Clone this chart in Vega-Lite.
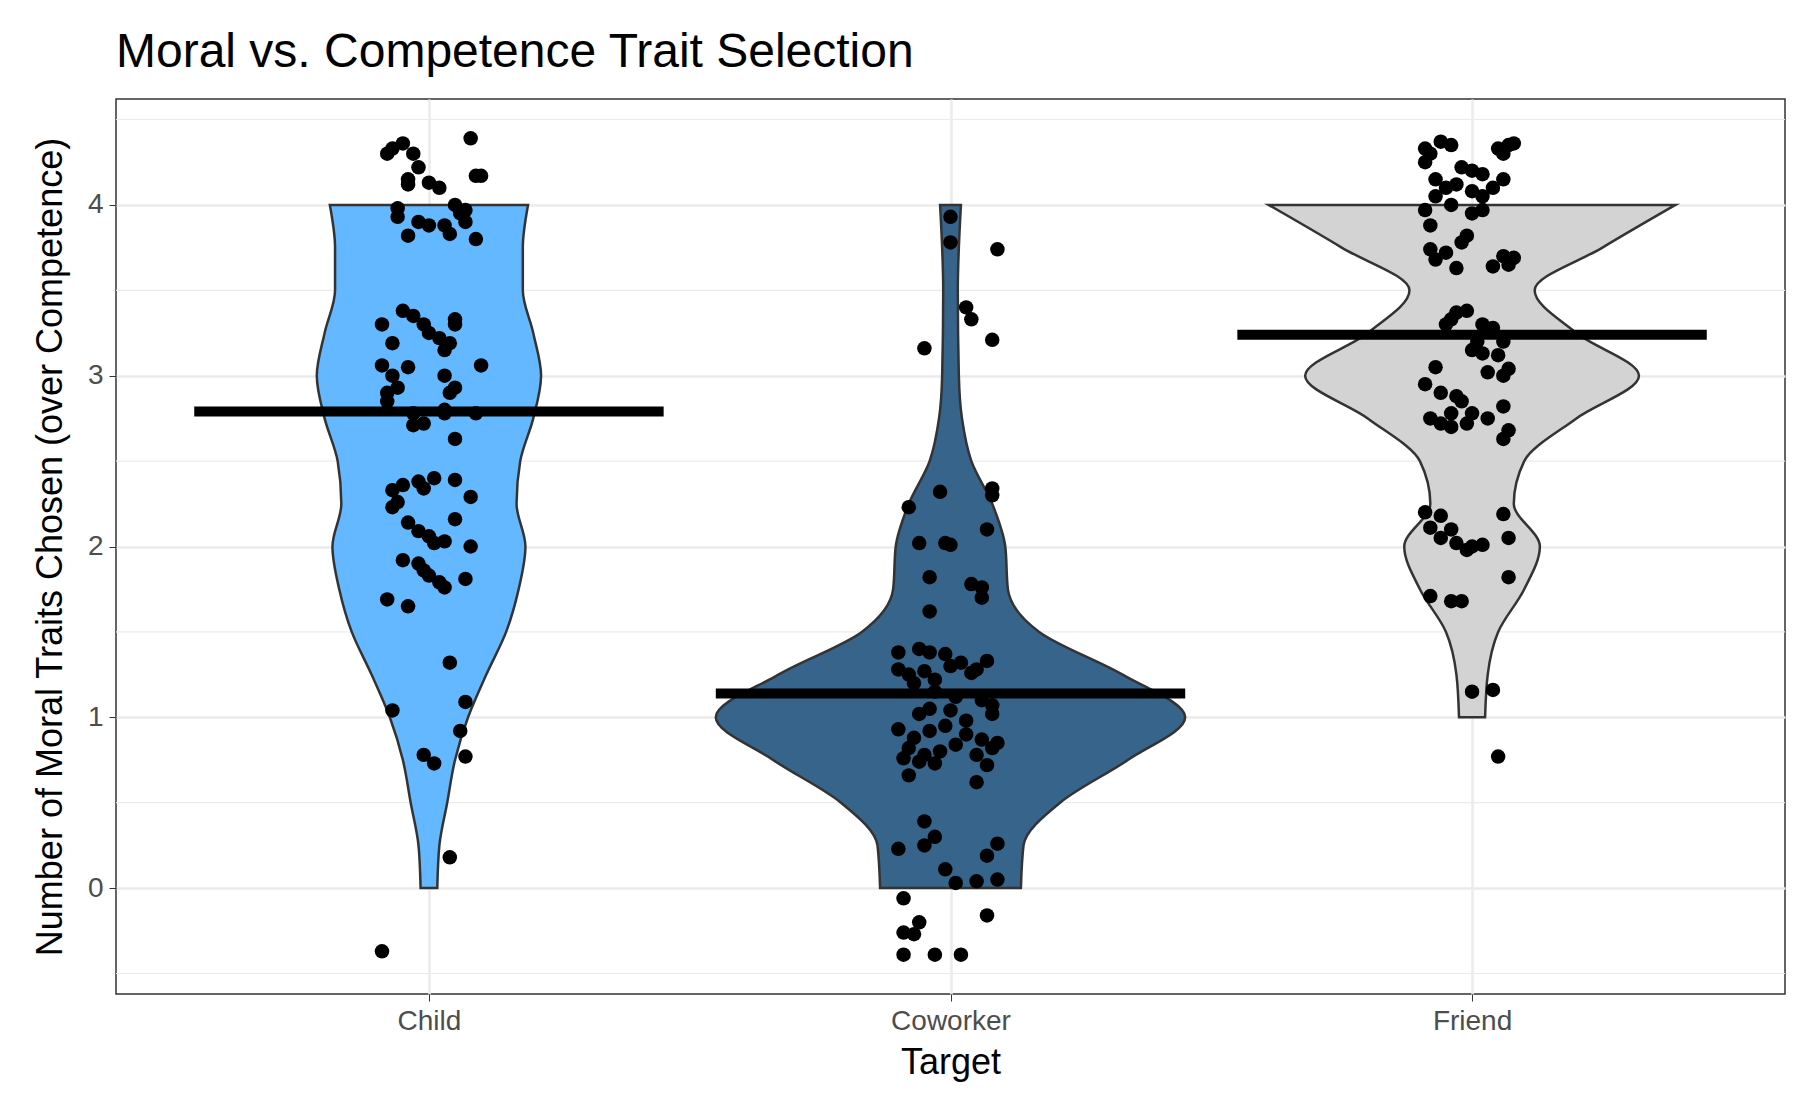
{
"$schema":"https://vega.github.io/schema/vega-lite/v6.json",
"autosize":{"type":"none"},
"width":1669,"height":895,
"padding":{"left":116,"top":99,"right":29,"bottom":126},
"background":"white",
"title":{"text":"Moral vs. Competence Trait Selection","anchor":"start","frame":"group","font":"Liberation Sans","fontSize":48,"fontWeight":"normal","color":"black","offset":22},
"config":{"view":{"stroke":"#333333","strokeWidth":1.5},"font":"Liberation Sans"},
"datasets":{
"violin":[
{"target":"Child","y":0,"w":0.016},{"target":"Child","y":0.25,"w":0.02},{"target":"Child","y":0.5,"w":0.035},{"target":"Child","y":0.75,"w":0.05},{"target":"Child","y":1,"w":0.075},{"target":"Child","y":1.25,"w":0.11},{"target":"Child","y":1.5,"w":0.148},{"target":"Child","y":1.75,"w":0.172},{"target":"Child","y":2,"w":0.185},{"target":"Child","y":2.25,"w":0.168},{"target":"Child","y":2.5,"w":0.175},{"target":"Child","y":2.75,"w":0.2},{"target":"Child","y":3,"w":0.215},{"target":"Child","y":3.25,"w":0.2},{"target":"Child","y":3.5,"w":0.18},{"target":"Child","y":3.75,"w":0.18},{"target":"Child","y":4,"w":0.19},
{"target":"Coworker","y":0,"w":0.135},{"target":"Coworker","y":0.25,"w":0.14},{"target":"Coworker","y":0.5,"w":0.21},{"target":"Coworker","y":0.75,"w":0.34},{"target":"Coworker","y":1,"w":0.45},{"target":"Coworker","y":1.25,"w":0.33},{"target":"Coworker","y":1.5,"w":0.17},{"target":"Coworker","y":1.75,"w":0.11},{"target":"Coworker","y":2,"w":0.105},{"target":"Coworker","y":2.25,"w":0.08},{"target":"Coworker","y":2.5,"w":0.04},{"target":"Coworker","y":2.75,"w":0.022},{"target":"Coworker","y":3,"w":0.016},{"target":"Coworker","y":3.5,"w":0.014},{"target":"Coworker","y":4,"w":0.02},
{"target":"Friend","y":1,"w":0.025},{"target":"Friend","y":1.25,"w":0.03},{"target":"Friend","y":1.5,"w":0.05},{"target":"Friend","y":1.75,"w":0.1},{"target":"Friend","y":2,"w":0.13},{"target":"Friend","y":2.25,"w":0.08},{"target":"Friend","y":2.5,"w":0.1},{"target":"Friend","y":2.75,"w":0.2},{"target":"Friend","y":3,"w":0.32},{"target":"Friend","y":3.25,"w":0.2},{"target":"Friend","y":3.5,"w":0.12},{"target":"Friend","y":3.75,"w":0.25},{"target":"Friend","y":4,"w":0.39}
],
"means":[{"target":"Child","mean":2.79},{"target":"Coworker","mean":1.14},{"target":"Friend","mean":3.24}],
"grid":[{"g":-0.5},{"g":0.5},{"g":1.5},{"g":2.5},{"g":3.5},{"g":4.5}],
"points":[
{"target":"Child","j":-0.08,"v":4.3},{"target":"Child","j":-0.07,"v":4.33},{"target":"Child","j":-0.05,"v":4.36},{"target":"Child","j":-0.03,"v":4.3},{"target":"Child","j":-0.02,"v":4.22},{"target":"Child","j":0.08,"v":4.39},{"target":"Child","j":0.09,"v":4.17},{"target":"Child","j":0.1,"v":4.17},{"target":"Child","j":-0.04,"v":4.12},{"target":"Child","j":-0.04,"v":4.15},{"target":"Child","j":0.0,"v":4.13},{"target":"Child","j":0.02,"v":4.1},{"target":"Child","j":-0.06,"v":3.98},{"target":"Child","j":-0.06,"v":3.93},{"target":"Child","j":-0.04,"v":3.82},{"target":"Child","j":-0.02,"v":3.9},{"target":"Child","j":0.0,"v":3.88},{"target":"Child","j":0.03,"v":3.88},{"target":"Child","j":0.05,"v":4.0},{"target":"Child","j":0.06,"v":3.95},{"target":"Child","j":0.07,"v":3.97},{"target":"Child","j":0.04,"v":3.83},{"target":"Child","j":0.09,"v":3.8},{"target":"Child","j":0.07,"v":3.9},
{"target":"Child","j":-0.09,"v":3.3},{"target":"Child","j":-0.07,"v":3.19},{"target":"Child","j":-0.05,"v":3.38},{"target":"Child","j":-0.03,"v":3.35},{"target":"Child","j":-0.01,"v":3.3},{"target":"Child","j":0.0,"v":3.25},{"target":"Child","j":0.02,"v":3.22},{"target":"Child","j":0.05,"v":3.33},{"target":"Child","j":0.05,"v":3.3},{"target":"Child","j":0.04,"v":3.19},{"target":"Child","j":0.03,"v":3.15},{"target":"Child","j":-0.09,"v":3.06},{"target":"Child","j":-0.07,"v":3.0},{"target":"Child","j":-0.04,"v":3.05},{"target":"Child","j":0.03,"v":3.0},{"target":"Child","j":0.1,"v":3.06},{"target":"Child","j":-0.08,"v":2.9},{"target":"Child","j":-0.08,"v":2.85},{"target":"Child","j":-0.06,"v":2.93},{"target":"Child","j":-0.03,"v":2.78},{"target":"Child","j":-0.03,"v":2.71},{"target":"Child","j":-0.01,"v":2.72},{"target":"Child","j":0.03,"v":2.78},{"target":"Child","j":0.04,"v":2.9},{"target":"Child","j":0.05,"v":2.93},{"target":"Child","j":0.09,"v":2.78},{"target":"Child","j":0.05,"v":2.63},{"target":"Child","j":0.03,"v":2.8},
{"target":"Child","j":-0.07,"v":2.33},{"target":"Child","j":-0.06,"v":2.26},{"target":"Child","j":-0.05,"v":2.36},{"target":"Child","j":-0.02,"v":2.38},{"target":"Child","j":-0.01,"v":2.34},{"target":"Child","j":0.01,"v":2.4},{"target":"Child","j":0.05,"v":2.39},{"target":"Child","j":0.08,"v":2.29},{"target":"Child","j":-0.07,"v":2.23},{"target":"Child","j":-0.04,"v":2.14},{"target":"Child","j":-0.02,"v":2.09},{"target":"Child","j":0.0,"v":2.06},{"target":"Child","j":0.01,"v":2.02},{"target":"Child","j":0.03,"v":2.03},{"target":"Child","j":0.05,"v":2.16},{"target":"Child","j":0.08,"v":2.0},{"target":"Child","j":-0.05,"v":1.92},{"target":"Child","j":-0.02,"v":1.9},{"target":"Child","j":-0.01,"v":1.86},{"target":"Child","j":0.0,"v":1.83},{"target":"Child","j":0.02,"v":1.79},{"target":"Child","j":0.03,"v":1.76},{"target":"Child","j":0.07,"v":1.81},{"target":"Child","j":-0.08,"v":1.69},{"target":"Child","j":-0.04,"v":1.65},
{"target":"Child","j":0.04,"v":1.32},{"target":"Child","j":-0.07,"v":1.04},{"target":"Child","j":0.07,"v":1.09},{"target":"Child","j":0.06,"v":0.92},{"target":"Child","j":-0.01,"v":0.78},{"target":"Child","j":0.01,"v":0.73},{"target":"Child","j":0.07,"v":0.77},{"target":"Child","j":0.04,"v":0.18},{"target":"Child","j":-0.09,"v":-0.37},
{"target":"Coworker","j":0.0,"v":3.93},{"target":"Coworker","j":0.0,"v":3.78},{"target":"Coworker","j":0.09,"v":3.74},{"target":"Coworker","j":0.03,"v":3.4},{"target":"Coworker","j":0.04,"v":3.33},{"target":"Coworker","j":-0.05,"v":3.16},{"target":"Coworker","j":0.08,"v":3.21},{"target":"Coworker","j":-0.08,"v":2.23},{"target":"Coworker","j":-0.02,"v":2.32},{"target":"Coworker","j":0.08,"v":2.3},{"target":"Coworker","j":0.08,"v":2.34},{"target":"Coworker","j":0.07,"v":2.1},{"target":"Coworker","j":-0.06,"v":2.02},{"target":"Coworker","j":-0.01,"v":2.02},{"target":"Coworker","j":0.0,"v":2.01},{"target":"Coworker","j":-0.04,"v":1.82},{"target":"Coworker","j":0.04,"v":1.78},{"target":"Coworker","j":0.06,"v":1.76},{"target":"Coworker","j":0.06,"v":1.7},{"target":"Coworker","j":-0.04,"v":1.62},
{"target":"Coworker","j":-0.1,"v":1.38},{"target":"Coworker","j":-0.06,"v":1.4},{"target":"Coworker","j":-0.04,"v":1.38},{"target":"Coworker","j":-0.01,"v":1.37},{"target":"Coworker","j":0.02,"v":1.32},{"target":"Coworker","j":0.07,"v":1.33},{"target":"Coworker","j":-0.1,"v":1.28},{"target":"Coworker","j":-0.08,"v":1.25},{"target":"Coworker","j":-0.05,"v":1.27},{"target":"Coworker","j":-0.03,"v":1.22},{"target":"Coworker","j":0.0,"v":1.3},{"target":"Coworker","j":0.04,"v":1.26},{"target":"Coworker","j":0.05,"v":1.28},{"target":"Coworker","j":-0.07,"v":1.2},{"target":"Coworker","j":-0.03,"v":1.15},{"target":"Coworker","j":0.01,"v":1.12},{"target":"Coworker","j":0.06,"v":1.1},{"target":"Coworker","j":0.08,"v":1.07},{"target":"Coworker","j":-0.06,"v":1.02},{"target":"Coworker","j":-0.04,"v":1.05},{"target":"Coworker","j":0.0,"v":1.04},{"target":"Coworker","j":0.03,"v":0.98},{"target":"Coworker","j":0.08,"v":1.02},{"target":"Coworker","j":-0.1,"v":0.93},{"target":"Coworker","j":-0.07,"v":0.88},{"target":"Coworker","j":-0.04,"v":0.92},{"target":"Coworker","j":-0.01,"v":0.95},{"target":"Coworker","j":0.03,"v":0.9},{"target":"Coworker","j":0.06,"v":0.87},{"target":"Coworker","j":0.09,"v":0.85},{"target":"Coworker","j":-0.08,"v":0.82},{"target":"Coworker","j":-0.05,"v":0.78},{"target":"Coworker","j":-0.02,"v":0.8},{"target":"Coworker","j":0.01,"v":0.84},{"target":"Coworker","j":0.05,"v":0.78},{"target":"Coworker","j":0.08,"v":0.82},{"target":"Coworker","j":-0.09,"v":0.76},{"target":"Coworker","j":-0.06,"v":0.74},{"target":"Coworker","j":-0.03,"v":0.73},{"target":"Coworker","j":0.07,"v":0.72},{"target":"Coworker","j":-0.08,"v":0.66},{"target":"Coworker","j":0.05,"v":0.62},
{"target":"Coworker","j":-0.05,"v":0.39},{"target":"Coworker","j":-0.03,"v":0.3},{"target":"Coworker","j":-0.05,"v":0.25},{"target":"Coworker","j":-0.1,"v":0.23},{"target":"Coworker","j":0.09,"v":0.26},{"target":"Coworker","j":0.07,"v":0.19},{"target":"Coworker","j":-0.01,"v":0.11},{"target":"Coworker","j":0.01,"v":0.03},{"target":"Coworker","j":0.05,"v":0.04},{"target":"Coworker","j":0.09,"v":0.05},{"target":"Coworker","j":-0.09,"v":-0.06},{"target":"Coworker","j":-0.09,"v":-0.26},{"target":"Coworker","j":-0.07,"v":-0.27},{"target":"Coworker","j":-0.06,"v":-0.2},{"target":"Coworker","j":0.07,"v":-0.16},{"target":"Coworker","j":-0.09,"v":-0.39},{"target":"Coworker","j":-0.03,"v":-0.39},{"target":"Coworker","j":0.02,"v":-0.39},
{"target":"Friend","j":-0.09,"v":4.33},{"target":"Friend","j":-0.08,"v":4.3},{"target":"Friend","j":-0.06,"v":4.37},{"target":"Friend","j":-0.04,"v":4.35},{"target":"Friend","j":-0.02,"v":4.22},{"target":"Friend","j":0.0,"v":4.2},{"target":"Friend","j":0.02,"v":4.18},{"target":"Friend","j":0.05,"v":4.33},{"target":"Friend","j":0.06,"v":4.3},{"target":"Friend","j":0.07,"v":4.35},{"target":"Friend","j":0.08,"v":4.36},{"target":"Friend","j":-0.09,"v":4.25},{"target":"Friend","j":-0.07,"v":4.15},{"target":"Friend","j":-0.05,"v":4.1},{"target":"Friend","j":-0.03,"v":4.12},{"target":"Friend","j":0.0,"v":4.08},{"target":"Friend","j":0.04,"v":4.1},{"target":"Friend","j":0.06,"v":4.15},{"target":"Friend","j":-0.09,"v":3.97},{"target":"Friend","j":-0.08,"v":3.88},{"target":"Friend","j":-0.07,"v":4.05},{"target":"Friend","j":-0.04,"v":4.0},{"target":"Friend","j":0.0,"v":3.95},{"target":"Friend","j":0.02,"v":3.97},{"target":"Friend","j":-0.01,"v":3.82},{"target":"Friend","j":-0.02,"v":3.78},{"target":"Friend","j":0.02,"v":4.05},{"target":"Friend","j":-0.08,"v":3.74},{"target":"Friend","j":-0.07,"v":3.68},{"target":"Friend","j":-0.05,"v":3.72},{"target":"Friend","j":-0.03,"v":3.63},{"target":"Friend","j":0.06,"v":3.7},{"target":"Friend","j":0.07,"v":3.65},{"target":"Friend","j":0.08,"v":3.69},{"target":"Friend","j":0.04,"v":3.64},
{"target":"Friend","j":-0.05,"v":3.3},{"target":"Friend","j":-0.04,"v":3.33},{"target":"Friend","j":-0.03,"v":3.37},{"target":"Friend","j":-0.01,"v":3.38},{"target":"Friend","j":0.02,"v":3.3},{"target":"Friend","j":0.04,"v":3.28},{"target":"Friend","j":0.06,"v":3.2},{"target":"Friend","j":0.01,"v":3.2},{"target":"Friend","j":0.0,"v":3.15},{"target":"Friend","j":0.02,"v":3.13},{"target":"Friend","j":0.05,"v":3.12},{"target":"Friend","j":0.07,"v":3.04},{"target":"Friend","j":0.06,"v":3.0},{"target":"Friend","j":0.03,"v":3.02},{"target":"Friend","j":-0.07,"v":3.05},{"target":"Friend","j":-0.09,"v":2.95},{"target":"Friend","j":-0.06,"v":2.9},{"target":"Friend","j":-0.03,"v":2.88},{"target":"Friend","j":-0.02,"v":2.85},{"target":"Friend","j":-0.04,"v":2.78},{"target":"Friend","j":0.0,"v":2.78},{"target":"Friend","j":0.03,"v":2.75},{"target":"Friend","j":0.06,"v":2.82},{"target":"Friend","j":-0.08,"v":2.75},{"target":"Friend","j":-0.06,"v":2.72},{"target":"Friend","j":-0.04,"v":2.7},{"target":"Friend","j":-0.01,"v":2.72},{"target":"Friend","j":0.07,"v":2.68},{"target":"Friend","j":0.06,"v":2.63},
{"target":"Friend","j":-0.09,"v":2.2},{"target":"Friend","j":-0.08,"v":2.11},{"target":"Friend","j":-0.06,"v":2.18},{"target":"Friend","j":-0.04,"v":2.1},{"target":"Friend","j":-0.06,"v":2.05},{"target":"Friend","j":-0.03,"v":2.02},{"target":"Friend","j":-0.01,"v":1.98},{"target":"Friend","j":0.0,"v":2.0},{"target":"Friend","j":0.02,"v":2.01},{"target":"Friend","j":0.06,"v":2.19},{"target":"Friend","j":0.07,"v":2.05},{"target":"Friend","j":0.07,"v":1.82},{"target":"Friend","j":-0.08,"v":1.71},{"target":"Friend","j":-0.04,"v":1.68},{"target":"Friend","j":-0.02,"v":1.68},{"target":"Friend","j":0.04,"v":1.16},{"target":"Friend","j":0.0,"v":1.15},{"target":"Friend","j":0.05,"v":0.77}
]},
"layer":[
{"data":{"name":"grid"},"mark":{"type":"rule","stroke":"#EBEBEB","strokeWidth":1.2},"encoding":{"y":{"field":"g","type":"quantitative","scale":{"domain":[-0.62,4.62],"nice":false,"zero":false}}}},
{"data":{"name":"violin"},
"transform":[{"calculate":"indexof(['Child','Coworker','Friend'], datum.target) + 1","as":"pos"},{"calculate":"datum.pos - datum.w","as":"lo"},{"calculate":"datum.pos + datum.w","as":"hi"}],
"mark":{"type":"area","orient":"horizontal","stroke":"#333333","strokeWidth":2.5,"opacity":1,"interpolate":"monotone"},
"encoding":{
"y":{"field":"y","type":"quantitative","scale":{"domain":[-0.62,4.62],"nice":false,"zero":false},
"axis":{"values":[0,1,2,3,4],"format":"d","title":"Number of Moral Traits Chosen (over Competence)","titleFont":"Liberation Sans","titleFontSize":36,"titleFontWeight":"normal","titleColor":"black","titlePadding":18,"labelFontSize":28,"labelColor":"#4D4D4D","labelFont":"Liberation Sans","labelPadding":6,"tickColor":"#333333","tickSize":7,"domain":false,"gridColor":"#EBEBEB","gridWidth":2.5}},
"x":{"field":"lo","type":"quantitative","scale":{"domain":[0.4,3.6],"nice":false,"zero":false},
"axis":{"values":[1,2,3],"labelExpr":"datum.value==1?'Child':datum.value==2?'Coworker':'Friend'","title":"Target","titleFont":"Liberation Sans","titleFontSize":36,"titleFontWeight":"normal","titleColor":"black","titlePadding":10,"labelFontSize":28,"labelColor":"#4D4D4D","labelFont":"Liberation Sans","labelPadding":6,"tickColor":"#333333","tickSize":7,"domain":false,"gridColor":"#EBEBEB","gridWidth":2.5}},
"x2":{"field":"hi"},
"color":{"field":"target","type":"nominal","scale":{"domain":["Child","Coworker","Friend"],"range":["#63B8FF","#36648B","#D3D3D3"]},"legend":null}}},
{"data":{"name":"points"},
"transform":[{"calculate":"indexof(['Child','Coworker','Friend'], datum.target) + 1 + datum.j","as":"px"}],
"mark":{"type":"circle","color":"black","opacity":1,"size":210},
"encoding":{"x":{"field":"px","type":"quantitative"},"y":{"field":"v","type":"quantitative"}}},
{"data":{"name":"means"},
"transform":[{"calculate":"indexof(['Child','Coworker','Friend'], datum.target) + 1","as":"pos"},{"calculate":"datum.pos - 0.45","as":"lo"},{"calculate":"datum.pos + 0.45","as":"hi"}],
"mark":{"type":"rule","color":"black","strokeWidth":10},
"encoding":{"x":{"field":"lo","type":"quantitative"},"x2":{"field":"hi"},"y":{"field":"mean","type":"quantitative"}}}
]
}
